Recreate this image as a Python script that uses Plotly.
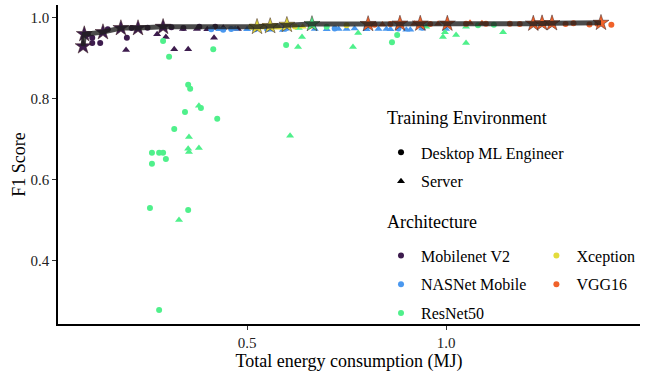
import plotly.graph_objects as go

# --- data (energy in MJ, F1 score) ---
mobilenet_desk_x = [0.100, 0.111, 0.111, 0.131, 0.150, 0.198, 0.210, 0.250, 0.310, 0.340, 0.380, 0.420]
mobilenet_desk_y = [0.960, 0.951, 0.938, 0.938, 0.972, 0.951, 0.975, 0.976, 0.977, 0.975, 0.978, 0.978]
mobilenet_srv_x = [0.196, 0.274, 0.296, 0.317, 0.352, 0.417, 0.290, 0.339, 0.374, 0.400, 0.440, 0.477]
mobilenet_srv_y = [0.921, 0.960, 0.953, 0.923, 0.923, 0.951, 0.975, 0.973, 0.973, 0.972, 0.976, 0.973]

nasnet_desk_x = [0.41, 0.44, 0.46, 0.52, 0.55, 0.60, 0.72, 0.80, 0.88, 0.94]
nasnet_desk_y = [0.972, 0.971, 0.973, 0.972, 0.973, 0.975, 0.974, 0.975, 0.974, 0.976]
nasnet_srv_x = [0.43, 0.47, 0.50, 0.56, 0.59, 0.67, 0.70, 0.73, 0.75, 0.77, 0.80, 0.83, 0.85,
                0.86, 0.90, 0.91, 0.94, 1.00]
nasnet_srv_y = [0.972, 0.973, 0.972, 0.971, 0.970, 0.973, 0.972, 0.973, 0.973, 0.974, 0.972,
                0.973, 0.973, 0.972, 0.971, 0.971, 0.974, 0.973]

resnet_desk_x = [0.352, 0.357, 0.344, 0.384, 0.425, 0.317, 0.261, 0.279, 0.289, 0.296, 0.261,
                 0.256, 0.352, 0.279, 0.289, 0.304, 0.415, 0.598, 0.877, 0.864, 0.700, 1.080, 1.120]
resnet_desk_y = [0.835, 0.825, 0.768, 0.778, 0.751, 0.726, 0.667, 0.667, 0.667, 0.652, 0.640,
                 0.531, 0.526, 0.279, 0.943, 0.904, 0.923, 0.933, 0.958, 0.940, 0.978, 0.982, 0.983]
resnet_srv_x = [0.379, 0.354, 0.352, 0.354, 0.379, 0.608, 0.329, 0.638, 0.628, 0.779, 0.766,
                0.997, 0.992, 1.025, 1.050, 1.143, 0.630, 0.950, 1.050]
resnet_srv_y = [0.783, 0.706, 0.677, 0.669, 0.679, 0.709, 0.501, 0.953, 0.928, 0.963, 0.928,
                0.965, 0.953, 0.958, 0.938, 0.965, 0.975, 0.978, 0.978]

xception_desk_x = [0.51, 0.54, 0.57, 0.62, 0.66, 0.75]
xception_desk_y = [0.978, 0.979, 0.980, 0.979, 0.981, 0.982]
xception_srv_x = [0.52, 0.56, 0.58, 0.64]
xception_srv_y = [0.976, 0.977, 0.976, 0.978]

vgg_desk_x = [0.82, 0.86, 0.96, 1.05, 1.10, 1.16, 1.185, 1.30, 1.32, 1.36, 1.38, 1.415]
vgg_desk_y = [0.983, 0.985, 0.985, 0.986, 0.986, 0.986, 0.985, 0.985, 0.987, 0.984, 0.986, 0.983]
vgg_srv_x = [0.84, 0.92, 0.98, 1.06, 1.09, 1.25]
vgg_srv_y = [0.984, 0.986, 0.986, 0.988, 0.987, 0.986]

# Pareto-optimal runs (stars)
front_mobilenet_x = [0.088, 0.091, 0.138, 0.183, 0.226, 0.289]
front_mobilenet_y = [0.930, 0.960, 0.965, 0.975, 0.975, 0.978]
front_xception_x = [0.525, 0.558, 0.600]
front_xception_y = [0.978, 0.980, 0.983]
front_resnet_x = [0.663]
front_resnet_y = [0.985]
front_vgg_x = [0.804, 0.884, 0.935, 1.003, 1.219, 1.241, 1.266, 1.389]
front_vgg_y = [0.985, 0.986, 0.986, 0.986, 0.986, 0.987, 0.987, 0.988]

architectures = ['Mobilenet V2', 'NASNet Mobile', 'ResNet50', 'Xception', 'VGG16']
colores = {
    'Mobilenet V2': '#3d1c4e',
    'NASNet Mobile': '#4a98ef',
    'ResNet50': '#4ff08b',
    'Xception': '#e3dc3c',
    'VGG16': '#f0622a',
}

dados = {
    'Mobilenet V2': (mobilenet_desk_x, mobilenet_desk_y, mobilenet_srv_x, mobilenet_srv_y),
    'NASNet Mobile': (nasnet_desk_x, nasnet_desk_y, nasnet_srv_x, nasnet_srv_y),
    'ResNet50': (resnet_desk_x, resnet_desk_y, resnet_srv_x, resnet_srv_y),
    'Xception': (xception_desk_x, xception_desk_y, xception_srv_x, xception_srv_y),
    'VGG16': (vgg_desk_x, vgg_desk_y, vgg_srv_x, vgg_srv_y),
}
estrelas = {
    'Mobilenet V2': (front_mobilenet_x, front_mobilenet_y),
    'Xception': (front_xception_x, front_xception_y),
    'ResNet50': (front_resnet_x, front_resnet_y),
    'VGG16': (front_vgg_x, front_vgg_y),
}

FONTE = 'Liberation Serif, Times New Roman, serif'

fig = go.Figure()

for arq in architectures:
    dx, dy, sx, sy = dados[arq]
    fig.add_trace(go.Scatter(x=dx, y=dy, mode='markers', showlegend=False,
                             marker=dict(symbol='circle', size=6, color=colores[arq])))
    fig.add_trace(go.Scatter(x=sx, y=sy, mode='markers', showlegend=False,
                             marker=dict(symbol='triangle-up', size=7, color=colores[arq])))

for arq, (ex, ey) in estrelas.items():
    fig.add_trace(go.Scatter(x=ex, y=ey, mode='markers', showlegend=False,
                             marker=dict(symbol='star', size=12, color=colores[arq],
                                         line=dict(width=0.5, color='#3a1f1f'))))

# pareto front line through the stars
pontos = sorted(zip(front_mobilenet_x + front_xception_x + front_resnet_x + front_vgg_x,
                    front_mobilenet_y + front_xception_y + front_resnet_y + front_vgg_y))
fig.add_trace(go.Scatter(x=[p[0] for p in pontos], y=[p[1] for p in pontos], mode='lines',
                         showlegend=False, hoverinfo='skip',
                         line=dict(color='rgba(30,30,30,0.8)', width=5)))

# legend entries
fig.add_trace(go.Scatter(x=[None], y=[None], mode='markers', name='Desktop ML Engineer',
                         legend='legend', legendgroup='d',
                         marker=dict(symbol='circle', size=6, color='black')))
fig.add_trace(go.Scatter(x=[None], y=[None], mode='markers', name='Server',
                         legend='legend', legendgroup='s',
                         marker=dict(symbol='triangle-up', size=7, color='black')))
for arq in ['Mobilenet V2', 'NASNet Mobile', 'ResNet50']:
    fig.add_trace(go.Scatter(x=[None], y=[None], mode='markers', name=arq,
                             legend='legend2', legendgroup=arq,
                             marker=dict(symbol='circle', size=6, color=colores[arq])))
for arq in ['Xception', 'VGG16']:
    fig.add_trace(go.Scatter(x=[None], y=[None], mode='markers', name=arq,
                             legend='legend3', legendgroup=arq,
                             marker=dict(symbol='circle', size=6, color=colores[arq])))

leg_comum = dict(bgcolor='rgba(0,0,0,0)', font=dict(family=FONTE, size=16, color='black'),
                 xanchor='left', yanchor='top', tracegroupgap=5, traceorder='grouped')

fig.update_layout(
    width=647, height=377,
    margin=dict(l=58, r=7, t=5, b=53, autoexpand=False),
    plot_bgcolor='white', paper_bgcolor='white',
    font=dict(family=FONTE, size=15, color='black'),
    showlegend=True,
    hovermode=False,
    legend=dict(x=0.555, y=0.591, **leg_comum),
    legend2=dict(x=0.555, y=0.268, **leg_comum),
    legend3=dict(x=0.822, y=0.268, **leg_comum),
    annotations=[
        dict(text='Training Environment', xref='paper', yref='paper', x=0.562, y=0.646,
             xanchor='left', yanchor='middle', showarrow=False, font=dict(size=18)),
        dict(text='Architecture', xref='paper', yref='paper', x=0.562, y=0.320,
             xanchor='left', yanchor='middle', showarrow=False, font=dict(size=18)),
    ],
)

fig.update_xaxes(title=dict(text='Total energy consumption (MJ)', font=dict(size=18), standoff=2),
                 automargin=False,
                 range=[0.025, 1.487], tickvals=[0.5, 1.0], ticktext=['0.5', '1.0'],
                 showgrid=False, zeroline=False, showline=True, linecolor='black', linewidth=1.5,
                 ticks='outside', ticklen=4, tickcolor='#333333', tickfont=dict(size=15, color='#222222'))
fig.update_yaxes(title=dict(text='F1 Score', font=dict(size=18), standoff=0),
                 automargin=False,
                 range=[0.2444, 1.032], tickvals=[0.4, 0.6, 0.8, 1.0],
                 ticktext=['0.4', '0.6', '0.8', '1.0'],
                 showgrid=False, zeroline=False, showline=True, linecolor='black', linewidth=1.5,
                 ticks='outside', ticklen=4, tickcolor='#333333', tickfont=dict(size=15, color='#222222'))

# page body has a default 8px margin; drop it so the figure sits at the top-left corner
fig.write_html('out.html', config={'displayModeBar': False},
               post_script="document.body.style.margin='0';")
